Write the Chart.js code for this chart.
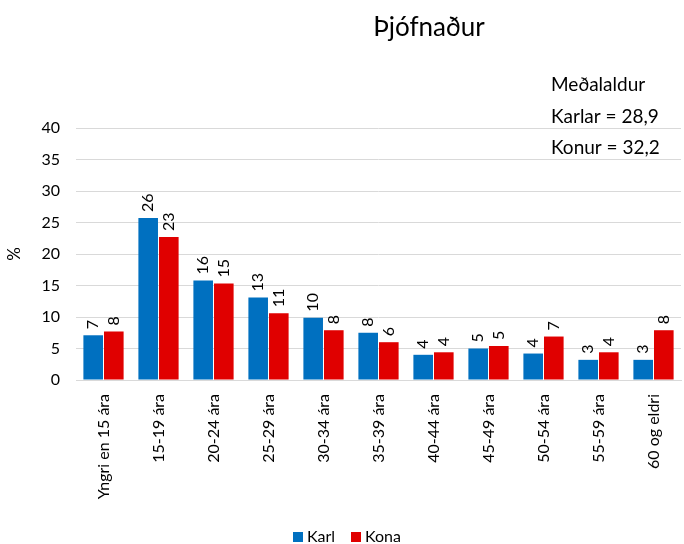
<!DOCTYPE html>
<html><head><meta charset="utf-8">
<script src="https://cdn.jsdelivr.net/npm/chart.js@4"></script>
<style>html,body{margin:0;padding:0;background:#fff}#w{width:684px;height:544px}</style>
</head><body><div id="w"><canvas id="c"></canvas></div>
<script>
const categories = ["Yngri en 15 ára","15-19 ára","20-24 ára","25-29 ára","30-34 ára","35-39 ára","40-44 ára","45-49 ára","50-54 ára","55-59 ára","60 og eldri"];
const karl = [7.1,25.7,15.8,13.1,9.9,7.5,4.0,5.0,4.2,3.2,3.2];
const kona = [7.7,22.7,15.3,10.6,7.9,6.0,4.4,5.4,6.9,4.4,7.9];
const seriesNames = ["Karl","Kona"];
const seriesColors = ['#0070c0', '#e00000'];
const titleText = "Þjófnaður";
const noteLines = ["Meðalaldur","Karlar = 28,9","Konur = 32,2"];
const FONT = "Lato, 'Open Sans', sans-serif";

const labelsPlugin = {
  id: 'barLabels',
  afterDatasetsDraw(chart) {
    const ctx = chart.ctx;
    ctx.save();
    ctx.font = "16px " + FONT;
    ctx.fillStyle = "#000";
    ctx.textAlign = "left";
    ctx.textBaseline = "middle";
    chart.data.datasets.forEach((ds, i) => {
      chart.getDatasetMeta(i).data.forEach((bar, j) => {
        const txt = String(Math.round(ds.data[j]));
        ctx.save();
        ctx.translate(bar.x, bar.y - 6);
        ctx.rotate(-Math.PI / 2);
        ctx.fillText(txt, 0, 0);
        ctx.restore();
      });
    });
    ctx.restore();
  },
  afterDraw(chart) {
    const ctx = chart.ctx;
    ctx.save();
    ctx.fillStyle = "#000";
    ctx.font = "26px " + FONT;
    ctx.textAlign = "center";
    ctx.textBaseline = "middle";
    ctx.fillText(titleText, 429, 28);
    ctx.font = "19px " + FONT;
    ctx.textAlign = "left";
    noteLines.forEach((t, k) => ctx.fillText(t, 551, 85 + k * 31.5));
    // legend
    ctx.font = "16px " + FONT;
    const lx = [293, 351];
    seriesNames.forEach((n, k) => {
      ctx.fillStyle = seriesColors[k];
      ctx.fillRect(lx[k], 532, 10, 10);
      ctx.fillStyle = "#000";
      ctx.fillText(n, lx[k] + 14, 537);
    });
    ctx.restore();
  }
};

new Chart(document.getElementById('c'), {
  type: 'bar',
  data: {
    labels: categories,
    datasets: [
      {label: seriesNames[0], data: karl, backgroundColor: seriesColors[0], categoryPercentage: 0.75, barPercentage: 0.95},
      {label: seriesNames[1], data: kona, backgroundColor: seriesColors[1], categoryPercentage: 0.75, barPercentage: 0.95}
    ]
  },
  options: {
    responsive: true, maintainAspectRatio: false, animation: false,
    layout: {padding: {top: 128, right: 3, left: 0, bottom: 0}},
    plugins: {
      tooltip: {enabled: false},
      title: {display: false},
      legend: {display: false}
    },
    scales: {
      x: {
        grid: {display: false},
        border: {color: '#d9d9d9', width: 1},
        ticks: {font: {family: FONT, size: 16}, color: '#000', minRotation: 90, maxRotation: 90, autoSkip: false, padding: 6},
        afterFit(s) { s.height = 164; }
      },
      y: {
        min: 0, max: 40,
        grid: {color: '#d9d9d9', drawTicks: false},
        border: {display: false},
        ticks: {stepSize: 5, font: {family: FONT, size: 16}, color: '#000', padding: 16},
        title: {display: true, text: '%', font: {family: FONT, size: 17}, color: '#000'},
        afterFit(s) { s.width = 76; }
      }
    }
  },
  plugins: [labelsPlugin]
});
</script></body></html>
